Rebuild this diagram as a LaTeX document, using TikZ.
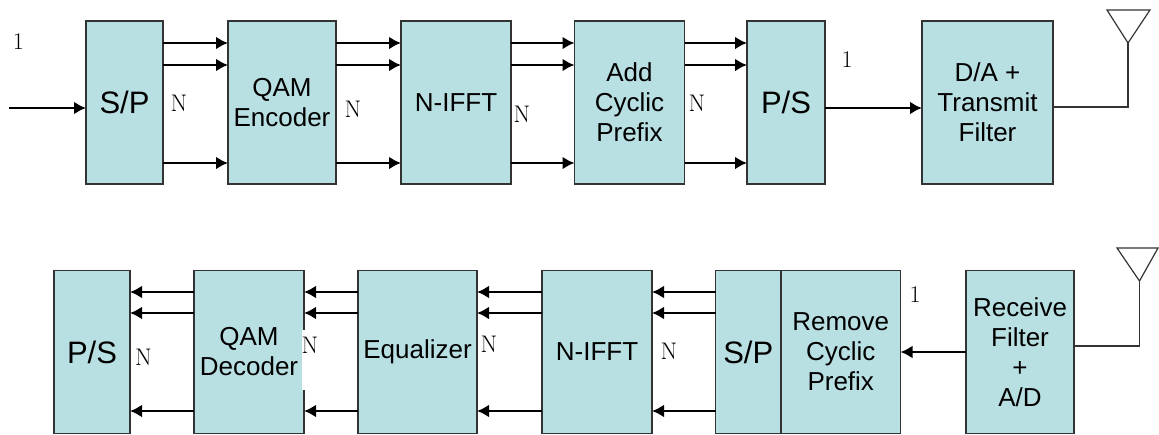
\documentclass[tikz,border=0pt]{standalone}
\usepackage{fontspec}
\usepackage{xcolor}
\setsansfont{Liberation Sans}
\usetikzlibrary{arrows.meta}
\definecolor{blockfill}{HTML}{B8DFE2}
\definecolor{blockedge}{HTML}{333333}
\tikzset{
    blockbox/.style={draw=blockedge, fill=blockfill, line width=1.5pt, inner sep=0pt, outer sep=0pt,
        minimum height=163, align=center, font=\sffamily\fontsize{26}{30}\selectfont},
    bigtext/.style={font=\sffamily\fontsize{31}{34}\selectfont},
    sigline/.style={line width=2.6pt, -{Latex[length=12pt,width=13pt]}},
    wireline/.style={draw=blockedge, line width=1.2pt},
    countlabel/.style={font=\fontsize{24}{26}\selectfont, inner sep=0pt}
}
\begin{document}
\begin{tikzpicture}[x=1pt, y=-1pt]
    \useasboundingbox (0,0) rectangle (1159,434);
    \coordinate (railA) at (0,43);
    \coordinate (railB) at (0,65);
    \coordinate (railC) at (0,163);
    \coordinate (railD) at (0,292);
    \coordinate (railE) at (0,313);
    \coordinate (railF) at (0,411);
    \coordinate (inTx) at (9,108);
    \coordinate (wireTx) at (0,107);
    \coordinate (wireRx) at (0,346);
    \coordinate (antTx) at (1128,43);
    \coordinate (antTxL) at (1107,10);
    \coordinate (antTxR) at (1150,10);
    \coordinate (antRx) at (1139.5,281);
    \coordinate (antRxL) at (1117,248);
    \coordinate (antRxR) at (1158,248);
    % transmit chain
    \node[blockbox, bigtext, minimum width=77] (spTx) at (124.5,102.5) {S/P};
    \node[blockbox, minimum width=108] (qamTx) at (282,102.5) {QAM\\Encoder};
    \node[blockbox, minimum width=110] (ifftTx) at (456,102.5) {N-IFFT};
    \node[blockbox, minimum width=110] (cpTx) at (629.5,102.5) {Add\\Cyclic\\Prefix};
    \node[blockbox, bigtext, minimum width=78] (psTx) at (786,102.5) {P/S};
    \node[blockbox, minimum width=131] (dacTx) at (987.5,102.5) {D/A +\\Transmit\\Filter};
    % receive chain
    \node[blockbox, bigtext, minimum width=76] (psRx) at (92,352) {P/S};
    \node[blockbox, minimum width=110] (qamRx) at (249,352) {QAM\\Decoder};
    \node[blockbox, minimum width=119] (eqRx) at (417.5,352) {Equalizer};
    \node[blockbox, minimum width=110] (ifftRx) at (597,352) {N-IFFT};
    \node[blockbox, bigtext, minimum width=65.5] (spRx) at (748.25,352) {S/P};
    \node[blockbox, minimum width=119.5] (cpRx) at (840.75,352) {Remove\\Cyclic\\Prefix};
    \node[blockbox, minimum width=108] (adcRx) at (1020,352) {Receive\\Filter\\+\\A/D};
    \fill[white] (301.5,330) rectangle (305,390);
    % top arrows
    \draw[sigline] (inTx) -- (spTx.west |- inTx);
    \draw[sigline] (spTx.east |- railA) -- (qamTx.west |- railA);
    \draw[sigline] (spTx.east |- railB) -- (qamTx.west |- railB);
    \draw[sigline] (spTx.east |- railC) -- (qamTx.west |- railC);
    \draw[sigline] (qamTx.east |- railA) -- (ifftTx.west |- railA);
    \draw[sigline] (qamTx.east |- railB) -- (ifftTx.west |- railB);
    \draw[sigline] (qamTx.east |- railC) -- (ifftTx.west |- railC);
    \draw[sigline] (ifftTx.east |- railA) -- (cpTx.west |- railA);
    \draw[sigline] (ifftTx.east |- railB) -- (cpTx.west |- railB);
    \draw[sigline] (ifftTx.east |- railC) -- (cpTx.west |- railC);
    \draw[sigline] (cpTx.east |- railA) -- (psTx.west |- railA);
    \draw[sigline] (cpTx.east |- railB) -- (psTx.west |- railB);
    \draw[sigline] (cpTx.east |- railC) -- (psTx.west |- railC);
    \draw[sigline] (psTx.east |- inTx) -- (dacTx.west |- inTx);
    % bottom arrows
    \draw[sigline] (qamRx.west |- railD) -- (psRx.east |- railD);
    \draw[sigline] (qamRx.west |- railE) -- (psRx.east |- railE);
    \draw[sigline] (qamRx.west |- railF) -- (psRx.east |- railF);
    \draw[sigline] (eqRx.west |- railD) -- (qamRx.east |- railD);
    \draw[sigline] (eqRx.west |- railE) -- (qamRx.east |- railE);
    \draw[sigline] (eqRx.west |- railF) -- (qamRx.east |- railF);
    \draw[sigline] (ifftRx.west |- railD) -- (eqRx.east |- railD);
    \draw[sigline] (ifftRx.west |- railE) -- (eqRx.east |- railE);
    \draw[sigline] (ifftRx.west |- railF) -- (eqRx.east |- railF);
    \draw[sigline] (spRx.west |- railD) -- (ifftRx.east |- railD);
    \draw[sigline] (spRx.west |- railE) -- (ifftRx.east |- railE);
    \draw[sigline] (spRx.west |- railF) -- (ifftRx.east |- railF);
    \draw[sigline] (adcRx.west |- cpRx.center) -- (cpRx.east |- cpRx.center);
    % antennas
    \draw[wireline] (dacTx.east |- wireTx) -| (antTx);
    \draw[wireline] (antTx) -- (antTxL) -- (antTxR) -- cycle;
    \draw[wireline] (adcRx.east |- wireRx) -| (antRx);
    \draw[wireline] (antRx) -- (antRxL) -- (antRxR) -- cycle;
    % labels
    \node[countlabel] (oneIn) at (18.5,42) {1};
    \node[countlabel] (nTxA) at (179,103) {N};
    \node[countlabel] (nTxB) at (353,109) {N};
    \node[countlabel] (nTxC) at (522,114) {N};
    \node[countlabel] (nTxD) at (697,103) {N};
    \node[countlabel] (oneOut) at (847,60) {1};
    \node[countlabel] (nRxA) at (143.5,357) {N};
    \node[countlabel] (nRxB) at (310,345) {N};
    \node[countlabel] (nRxC) at (489,344) {N};
    \node[countlabel] (nRxD) at (669,351) {N};
    \node[countlabel] (oneRx) at (915,295) {1};
\end{tikzpicture}
\end{document}
